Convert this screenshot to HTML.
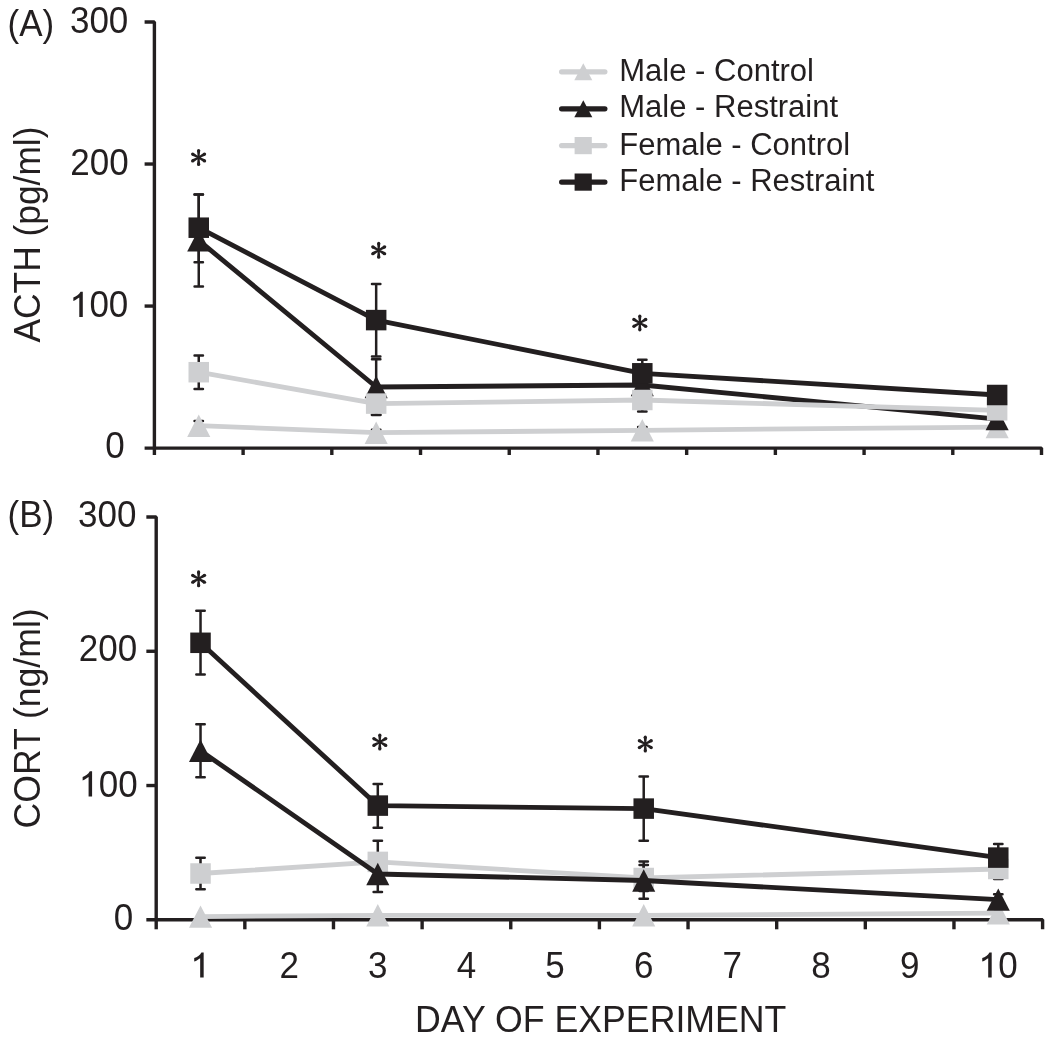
<!DOCTYPE html>
<html><head><meta charset="utf-8"><style>
html,body{margin:0;padding:0;background:#fff;}
body{width:1050px;height:1043px;overflow:hidden;}
svg{display:block;font-family:"Liberation Sans",sans-serif;will-change:transform;}
</style></head><body>
<svg width="1050" height="1043" viewBox="0 0 1050 1043">
<rect width="1050" height="1043" fill="#fff"/>
<path d="M144.6 22.0H154.4V448.1" stroke="#231f20" stroke-width="3.4" fill="none" stroke-linejoin="bevel"/>
<path d="M144.6 306.07H154.4" stroke="#231f20" stroke-width="3.4"/>
<path d="M144.6 164.03H154.4" stroke="#231f20" stroke-width="3.4"/>
<path d="M144.6 448.1H1041.5V455" stroke="#231f20" stroke-width="3.4" fill="none" stroke-linejoin="bevel"/>
<path d="M154.40 448.1V455" stroke="#231f20" stroke-width="3.4"/>
<path d="M243.11 448.1V455" stroke="#231f20" stroke-width="3.4"/>
<path d="M331.82 448.1V455" stroke="#231f20" stroke-width="3.4"/>
<path d="M420.53 448.1V455" stroke="#231f20" stroke-width="3.4"/>
<path d="M509.24 448.1V455" stroke="#231f20" stroke-width="3.4"/>
<path d="M597.95 448.1V455" stroke="#231f20" stroke-width="3.4"/>
<path d="M686.66 448.1V455" stroke="#231f20" stroke-width="3.4"/>
<path d="M775.37 448.1V455" stroke="#231f20" stroke-width="3.4"/>
<path d="M864.08 448.1V455" stroke="#231f20" stroke-width="3.4"/>
<path d="M952.79 448.1V455" stroke="#231f20" stroke-width="3.4"/>
<path d="M198.75 421.00V430.40M194.56 421.00H202.95M194.56 430.40H202.95" stroke="#231f20" stroke-width="2.5" fill="none" stroke-linecap="round"/>
<path d="M376.17 429.80V435.60M371.97 429.80H380.37M371.97 435.60H380.37" stroke="#231f20" stroke-width="2.5" fill="none" stroke-linecap="round"/>
<path d="M642.30 427.00V433.60M638.10 427.00H646.50M638.10 433.60H646.50" stroke="#231f20" stroke-width="2.5" fill="none" stroke-linecap="round"/>
<path d="M198.75 194.40V286.40M194.56 194.40H202.95M194.56 286.40H202.95" stroke="#231f20" stroke-width="2.5" fill="none" stroke-linecap="round"/>
<path d="M376.17 359.30V414.70M371.97 359.30H380.37M371.97 414.70H380.37" stroke="#231f20" stroke-width="2.5" fill="none" stroke-linecap="round"/>
<path d="M642.30 370.00V400.00M638.10 370.00H646.50M638.10 400.00H646.50" stroke="#231f20" stroke-width="2.5" fill="none" stroke-linecap="round"/>
<path d="M198.75 355.60V389.00M194.56 355.60H202.95M194.56 389.00H202.95" stroke="#231f20" stroke-width="2.5" fill="none" stroke-linecap="round"/>
<path d="M376.17 392.00V415.00M371.97 392.00H380.37M371.97 415.00H380.37" stroke="#231f20" stroke-width="2.5" fill="none" stroke-linecap="round"/>
<path d="M642.30 390.00V411.50M638.10 390.00H646.50M638.10 411.50H646.50" stroke="#231f20" stroke-width="2.5" fill="none" stroke-linecap="round"/>
<path d="M198.75 194.40V262.30M194.56 194.40H202.95M194.56 262.30H202.95" stroke="#231f20" stroke-width="2.5" fill="none" stroke-linecap="round"/>
<path d="M376.17 284.00V356.40M371.97 284.00H380.37M371.97 356.40H380.37" stroke="#231f20" stroke-width="2.5" fill="none" stroke-linecap="round"/>
<path d="M642.30 359.70V386.90M638.10 359.70H646.50M638.10 386.90H646.50" stroke="#231f20" stroke-width="2.5" fill="none" stroke-linecap="round"/>
<path d="M198.75 425.70L376.17 432.70L642.30 430.30L997.14 427.10" stroke="#cecfd1" stroke-width="4.8" fill="none" stroke-linejoin="round"/>
<path d="M198.75 414.50L210.31 436.90H187.20Z" fill="#cecfd1"/>
<path d="M376.17 421.50L387.72 443.90H364.62Z" fill="#cecfd1"/>
<path d="M642.30 419.10L653.85 441.50H630.75Z" fill="#cecfd1"/>
<path d="M997.14 415.90L1008.69 438.30H985.59Z" fill="#cecfd1"/>
<path d="M198.75 240.40L376.17 387.00L642.30 385.00L997.14 419.10" stroke="#231f20" stroke-width="4.8" fill="none" stroke-linejoin="round"/>
<path d="M198.75 229.20L210.31 251.60H187.20Z" fill="#231f20"/>
<path d="M376.17 375.80L387.72 398.20H364.62Z" fill="#231f20"/>
<path d="M642.30 373.80L653.85 396.20H630.75Z" fill="#231f20"/>
<path d="M997.14 407.90L1008.69 430.30H985.59Z" fill="#231f20"/>
<path d="M198.75 372.20L376.17 403.60L642.30 400.00L997.14 410.30" stroke="#cecfd1" stroke-width="4.8" fill="none" stroke-linejoin="round"/>
<rect x="188.50" y="361.95" width="20.5" height="20.5" fill="#cecfd1"/>
<rect x="365.92" y="393.35" width="20.5" height="20.5" fill="#cecfd1"/>
<rect x="632.05" y="389.75" width="20.5" height="20.5" fill="#cecfd1"/>
<rect x="986.89" y="400.05" width="20.5" height="20.5" fill="#cecfd1"/>
<path d="M198.75 227.70L376.17 320.10L642.30 373.30L997.14 395.00" stroke="#231f20" stroke-width="4.8" fill="none" stroke-linejoin="round"/>
<rect x="188.50" y="217.45" width="20.5" height="20.5" fill="#231f20"/>
<rect x="365.92" y="309.85" width="20.5" height="20.5" fill="#231f20"/>
<rect x="632.05" y="363.05" width="20.5" height="20.5" fill="#231f20"/>
<rect x="986.89" y="384.75" width="20.5" height="20.5" fill="#231f20"/>
<path d="M199.45 157.50L200.20 150.60L197.00 150.60L197.75 157.50ZM199.03 156.76L193.42 152.66L191.82 155.44L198.17 158.24ZM198.17 156.76L191.82 159.56L193.42 162.34L199.03 158.24ZM197.75 157.50L197.00 164.40L200.20 164.40L199.45 157.50ZM198.17 158.24L203.78 162.34L205.38 159.56L199.03 156.76ZM199.03 158.24L205.38 155.44L203.78 152.66L198.17 156.76Z" fill="#231f20"/><circle cx="198.60" cy="150.60" r="1.6" fill="#231f20"/><circle cx="192.62" cy="154.05" r="1.6" fill="#231f20"/><circle cx="192.62" cy="160.95" r="1.6" fill="#231f20"/><circle cx="198.60" cy="164.40" r="1.6" fill="#231f20"/><circle cx="204.58" cy="160.95" r="1.6" fill="#231f20"/><circle cx="204.58" cy="154.05" r="1.6" fill="#231f20"/>
<path d="M379.55 250.30L380.30 243.40L377.10 243.40L377.85 250.30ZM379.12 249.56L373.52 245.46L371.92 248.24L378.27 251.04ZM378.27 249.56L371.92 252.36L373.52 255.14L379.12 251.04ZM377.85 250.30L377.10 257.20L380.30 257.20L379.55 250.30ZM378.27 251.04L383.88 255.14L385.48 252.36L379.12 249.56ZM379.12 251.04L385.48 248.24L383.88 245.46L378.27 249.56Z" fill="#231f20"/><circle cx="378.70" cy="243.40" r="1.6" fill="#231f20"/><circle cx="372.72" cy="246.85" r="1.6" fill="#231f20"/><circle cx="372.72" cy="253.75" r="1.6" fill="#231f20"/><circle cx="378.70" cy="257.20" r="1.6" fill="#231f20"/><circle cx="384.68" cy="253.75" r="1.6" fill="#231f20"/><circle cx="384.68" cy="246.85" r="1.6" fill="#231f20"/>
<path d="M640.65 322.90L641.40 316.00L638.20 316.00L638.95 322.90ZM640.22 322.16L634.62 318.06L633.02 320.84L639.38 323.64ZM639.38 322.16L633.02 324.96L634.62 327.74L640.22 323.64ZM638.95 322.90L638.20 329.80L641.40 329.80L640.65 322.90ZM639.38 323.64L644.98 327.74L646.58 324.96L640.22 322.16ZM640.22 323.64L646.58 320.84L644.98 318.06L639.38 322.16Z" fill="#231f20"/><circle cx="639.80" cy="316.00" r="1.6" fill="#231f20"/><circle cx="633.82" cy="319.45" r="1.6" fill="#231f20"/><circle cx="633.82" cy="326.35" r="1.6" fill="#231f20"/><circle cx="639.80" cy="329.80" r="1.6" fill="#231f20"/><circle cx="645.78" cy="326.35" r="1.6" fill="#231f20"/><circle cx="645.78" cy="319.45" r="1.6" fill="#231f20"/>
<path d="M146.35 517.0H156.2V919.8" stroke="#231f20" stroke-width="3.4" fill="none" stroke-linejoin="bevel"/>
<path d="M146.35 785.53H156.2" stroke="#231f20" stroke-width="3.4"/>
<path d="M146.35 651.27H156.2" stroke="#231f20" stroke-width="3.4"/>
<path d="M146.35 919.8H1042.6V929.3" stroke="#231f20" stroke-width="3.4" fill="none" stroke-linejoin="bevel"/>
<path d="M156.20 919.8V929.3" stroke="#231f20" stroke-width="3.4"/>
<path d="M244.84 919.8V929.3" stroke="#231f20" stroke-width="3.4"/>
<path d="M333.48 919.8V929.3" stroke="#231f20" stroke-width="3.4"/>
<path d="M422.12 919.8V929.3" stroke="#231f20" stroke-width="3.4"/>
<path d="M510.76 919.8V929.3" stroke="#231f20" stroke-width="3.4"/>
<path d="M599.40 919.8V929.3" stroke="#231f20" stroke-width="3.4"/>
<path d="M688.04 919.8V929.3" stroke="#231f20" stroke-width="3.4"/>
<path d="M776.68 919.8V929.3" stroke="#231f20" stroke-width="3.4"/>
<path d="M865.32 919.8V929.3" stroke="#231f20" stroke-width="3.4"/>
<path d="M953.96 919.8V929.3" stroke="#231f20" stroke-width="3.4"/>
<path d="M200.52 857.70V889.20M196.32 857.70H204.72M196.32 889.20H204.72" stroke="#231f20" stroke-width="2.5" fill="none" stroke-linecap="round"/>
<path d="M377.80 840.80V883.00M373.60 840.80H382.00M373.60 883.00H382.00" stroke="#231f20" stroke-width="2.5" fill="none" stroke-linecap="round"/>
<path d="M643.72 865.00V891.00M639.52 865.00H647.92M639.52 891.00H647.92" stroke="#231f20" stroke-width="2.5" fill="none" stroke-linecap="round"/>
<path d="M998.28 858.00V878.90M994.08 858.00H1002.48M994.08 878.90H1002.48" stroke="#231f20" stroke-width="2.5" fill="none" stroke-linecap="round"/>
<path d="M200.52 724.30V777.20M196.32 724.30H204.72M196.32 777.20H204.72" stroke="#231f20" stroke-width="2.5" fill="none" stroke-linecap="round"/>
<path d="M377.80 856.00V892.10M373.60 856.00H382.00M373.60 892.10H382.00" stroke="#231f20" stroke-width="2.5" fill="none" stroke-linecap="round"/>
<path d="M643.72 861.50V898.80M639.52 861.50H647.92M639.52 898.80H647.92" stroke="#231f20" stroke-width="2.5" fill="none" stroke-linecap="round"/>
<path d="M998.28 894.30V905.00M994.08 894.30H1002.48M994.08 905.00H1002.48" stroke="#231f20" stroke-width="2.5" fill="none" stroke-linecap="round"/>
<path d="M200.52 610.70V674.50M196.32 610.70H204.72M196.32 674.50H204.72" stroke="#231f20" stroke-width="2.5" fill="none" stroke-linecap="round"/>
<path d="M377.80 784.00V827.70M373.60 784.00H382.00M373.60 827.70H382.00" stroke="#231f20" stroke-width="2.5" fill="none" stroke-linecap="round"/>
<path d="M643.72 776.40V840.80M639.52 776.40H647.92M639.52 840.80H647.92" stroke="#231f20" stroke-width="2.5" fill="none" stroke-linecap="round"/>
<path d="M998.28 844.00V871.20M994.08 844.00H1002.48M994.08 871.20H1002.48" stroke="#231f20" stroke-width="2.5" fill="none" stroke-linecap="round"/>
<path d="M200.52 916.60L377.80 915.30L643.72 915.30L998.28 913.20" stroke="#cecfd1" stroke-width="4.8" fill="none" stroke-linejoin="round"/>
<path d="M200.52 905.40L212.07 927.80H188.97Z" fill="#cecfd1"/>
<path d="M377.80 904.10L389.35 926.50H366.25Z" fill="#cecfd1"/>
<path d="M643.72 904.10L655.27 926.50H632.17Z" fill="#cecfd1"/>
<path d="M998.28 902.00L1009.83 924.40H986.73Z" fill="#cecfd1"/>
<path d="M200.52 873.50L377.80 861.90L643.72 878.00L998.28 869.00" stroke="#cecfd1" stroke-width="4.8" fill="none" stroke-linejoin="round"/>
<rect x="190.27" y="863.25" width="20.5" height="20.5" fill="#cecfd1"/>
<rect x="367.55" y="851.65" width="20.5" height="20.5" fill="#cecfd1"/>
<rect x="633.47" y="867.75" width="20.5" height="20.5" fill="#cecfd1"/>
<rect x="988.03" y="858.75" width="20.5" height="20.5" fill="#cecfd1"/>
<path d="M200.52 750.70L377.80 874.00L643.72 880.50L998.28 899.60" stroke="#231f20" stroke-width="4.8" fill="none" stroke-linejoin="round"/>
<path d="M200.52 739.50L212.07 761.90H188.97Z" fill="#231f20"/>
<path d="M377.80 862.80L389.35 885.20H366.25Z" fill="#231f20"/>
<path d="M643.72 869.30L655.27 891.70H632.17Z" fill="#231f20"/>
<path d="M998.28 888.40L1009.83 910.80H986.73Z" fill="#231f20"/>
<path d="M200.52 642.80L377.80 805.60L643.72 808.60L998.28 857.60" stroke="#231f20" stroke-width="4.8" fill="none" stroke-linejoin="round"/>
<rect x="190.27" y="632.55" width="20.5" height="20.5" fill="#231f20"/>
<rect x="367.55" y="795.35" width="20.5" height="20.5" fill="#231f20"/>
<rect x="633.47" y="798.35" width="20.5" height="20.5" fill="#231f20"/>
<rect x="988.03" y="847.35" width="20.5" height="20.5" fill="#231f20"/>
<path d="M199.45 578.80L200.20 571.90L197.00 571.90L197.75 578.80ZM199.03 578.06L193.42 573.96L191.82 576.74L198.17 579.54ZM198.17 578.06L191.82 580.86L193.42 583.64L199.03 579.54ZM197.75 578.80L197.00 585.70L200.20 585.70L199.45 578.80ZM198.17 579.54L203.78 583.64L205.38 580.86L199.03 578.06ZM199.03 579.54L205.38 576.74L203.78 573.96L198.17 578.06Z" fill="#231f20"/><circle cx="198.60" cy="571.90" r="1.6" fill="#231f20"/><circle cx="192.62" cy="575.35" r="1.6" fill="#231f20"/><circle cx="192.62" cy="582.25" r="1.6" fill="#231f20"/><circle cx="198.60" cy="585.70" r="1.6" fill="#231f20"/><circle cx="204.58" cy="582.25" r="1.6" fill="#231f20"/><circle cx="204.58" cy="575.35" r="1.6" fill="#231f20"/>
<path d="M380.65 742.00L381.40 735.10L378.20 735.10L378.95 742.00ZM380.23 741.26L374.62 737.16L373.02 739.94L379.38 742.74ZM379.38 741.26L373.02 744.06L374.62 746.84L380.23 742.74ZM378.95 742.00L378.20 748.90L381.40 748.90L380.65 742.00ZM379.38 742.74L384.98 746.84L386.58 744.06L380.23 741.26ZM380.23 742.74L386.58 739.94L384.98 737.16L379.38 741.26Z" fill="#231f20"/><circle cx="379.80" cy="735.10" r="1.6" fill="#231f20"/><circle cx="373.82" cy="738.55" r="1.6" fill="#231f20"/><circle cx="373.82" cy="745.45" r="1.6" fill="#231f20"/><circle cx="379.80" cy="748.90" r="1.6" fill="#231f20"/><circle cx="385.78" cy="745.45" r="1.6" fill="#231f20"/><circle cx="385.78" cy="738.55" r="1.6" fill="#231f20"/>
<path d="M646.15 744.10L646.90 737.20L643.70 737.20L644.45 744.10ZM645.72 743.36L640.12 739.26L638.52 742.04L644.88 744.84ZM644.88 743.36L638.52 746.16L640.12 748.94L645.72 744.84ZM644.45 744.10L643.70 751.00L646.90 751.00L646.15 744.10ZM644.88 744.84L650.48 748.94L652.08 746.16L645.72 743.36ZM645.72 744.84L652.08 742.04L650.48 739.26L644.88 743.36Z" fill="#231f20"/><circle cx="645.30" cy="737.20" r="1.6" fill="#231f20"/><circle cx="639.32" cy="740.65" r="1.6" fill="#231f20"/><circle cx="639.32" cy="747.55" r="1.6" fill="#231f20"/><circle cx="645.30" cy="751.00" r="1.6" fill="#231f20"/><circle cx="651.28" cy="747.55" r="1.6" fill="#231f20"/><circle cx="651.28" cy="740.65" r="1.6" fill="#231f20"/>
<path d="M561.6 71.80H604.9" stroke="#cecfd1" stroke-width="5.2" stroke-linecap="round"/>
<path d="M583.30 63.30L592.30 80.30H574.30Z" fill="#cecfd1"/>
<text x="619.3" y="80.6" font-size="31" fill="#231f20">Male - Control</text>
<path d="M561.6 108.80H604.9" stroke="#231f20" stroke-width="5.2" stroke-linecap="round"/>
<path d="M583.30 100.30L592.30 117.30H574.30Z" fill="#231f20"/>
<text x="619.3" y="117.3" font-size="31" fill="#231f20">Male - Restraint</text>
<path d="M561.6 145.60H604.9" stroke="#cecfd1" stroke-width="5.2" stroke-linecap="round"/>
<rect x="574.60" y="137.00" width="17.2" height="17.2" fill="#cecfd1"/>
<text x="619.3" y="154.6" font-size="31" fill="#231f20">Female - Control</text>
<path d="M561.6 182.10H604.9" stroke="#231f20" stroke-width="5.2" stroke-linecap="round"/>
<rect x="574.60" y="173.50" width="17.2" height="17.2" fill="#231f20"/>
<text x="619.3" y="190.6" font-size="31" fill="#231f20">Female - Restraint</text>
<text x="7.5" y="0" font-size="35" text-anchor="start" fill="#231f20" transform="translate(0,36.0) scale(1,1.04)">(A)</text>
<text x="7.5" y="0" font-size="35" text-anchor="start" fill="#231f20" transform="translate(0,526.8) scale(1,1.04)">(B)</text>
<text x="128.3" y="0" font-size="35" text-anchor="end" fill="#231f20" transform="translate(0,33.2) scale(1,1.04)">300</text>
<text x="128.6" y="0" font-size="35" text-anchor="end" fill="#231f20" transform="translate(0,174.7) scale(1,1.04)">200</text>
<text x="128.3" y="0" font-size="35" text-anchor="end" fill="#231f20" transform="translate(0,317.0) scale(1,1.04)">00</text>
<path d="M79.29 317.00L82.79 317.00L82.79 291.80L80.54 291.80C79.04 294.70 76.24 296.50 73.34 297.50L73.34 301.00C75.74 300.10 77.74 298.70 79.29 297.60Z" fill="#231f20"/>
<text x="124.6" y="0" font-size="35" text-anchor="end" fill="#231f20" transform="translate(0,458.2) scale(1,1.04)">0</text>
<text x="136.4" y="0" font-size="35" text-anchor="end" fill="#231f20" transform="translate(0,526.8) scale(1,1.04)">300</text>
<text x="137.1" y="0" font-size="35" text-anchor="end" fill="#231f20" transform="translate(0,660.6) scale(1,1.04)">200</text>
<text x="137.6" y="0" font-size="35" text-anchor="end" fill="#231f20" transform="translate(0,796.5) scale(1,1.04)">00</text>
<path d="M88.59 796.50L92.09 796.50L92.09 771.30L89.84 771.30C88.34 774.20 85.54 776.00 82.64 777.00L82.64 780.50C85.04 779.60 87.04 778.20 88.59 777.10Z" fill="#231f20"/>
<text x="133.3" y="0" font-size="35" text-anchor="end" fill="#231f20" transform="translate(0,929.6) scale(1,1.04)">0</text>
<text x="289.16" y="0" font-size="35" text-anchor="middle" fill="#231f20" transform="translate(0,977.6) scale(1,1.04)">2</text>
<text x="377.80" y="0" font-size="35" text-anchor="middle" fill="#231f20" transform="translate(0,977.6) scale(1,1.04)">3</text>
<text x="466.44" y="0" font-size="35" text-anchor="middle" fill="#231f20" transform="translate(0,977.6) scale(1,1.04)">4</text>
<text x="555.08" y="0" font-size="35" text-anchor="middle" fill="#231f20" transform="translate(0,977.6) scale(1,1.04)">5</text>
<text x="643.72" y="0" font-size="35" text-anchor="middle" fill="#231f20" transform="translate(0,977.6) scale(1,1.04)">6</text>
<text x="732.36" y="0" font-size="35" text-anchor="middle" fill="#231f20" transform="translate(0,977.6) scale(1,1.04)">7</text>
<text x="821.00" y="0" font-size="35" text-anchor="middle" fill="#231f20" transform="translate(0,977.6) scale(1,1.04)">8</text>
<text x="909.64" y="0" font-size="35" text-anchor="middle" fill="#231f20" transform="translate(0,977.6) scale(1,1.04)">9</text>
<path d="M200.17 977.60L203.67 977.60L203.67 952.40L201.42 952.40C199.92 955.30 197.12 957.10 194.22 958.10L194.22 961.60C196.62 960.70 198.62 959.30 200.17 958.20Z" fill="#231f20"/>
<text x="998.28" y="0" font-size="35" text-anchor="start" fill="#231f20" transform="translate(0,977.6) scale(1,1.04)">0</text>
<path d="M988.20 977.60L991.70 977.60L991.70 952.40L989.45 952.40C987.95 955.30 985.15 957.10 982.25 958.10L982.25 961.60C984.65 960.70 986.65 959.30 988.20 958.20Z" fill="#231f20"/>
<text x="600.7" y="0" font-size="35.7" text-anchor="middle" fill="#231f20" transform="translate(0,1031.8) scale(1,1.03)">DAY OF EXPERIMENT</text>
<text x="0" y="0" font-size="35.35" text-anchor="start" fill="#231f20" transform="translate(39.5,342.5) rotate(-90) scale(1,1.03)">ACTH (pg/ml)</text>
<text x="0" y="0" font-size="35.6" text-anchor="start" fill="#231f20" transform="translate(39.5,828.5) rotate(-90) scale(1,1.03)">CORT (ng/ml)</text>
</svg>
</body></html>
